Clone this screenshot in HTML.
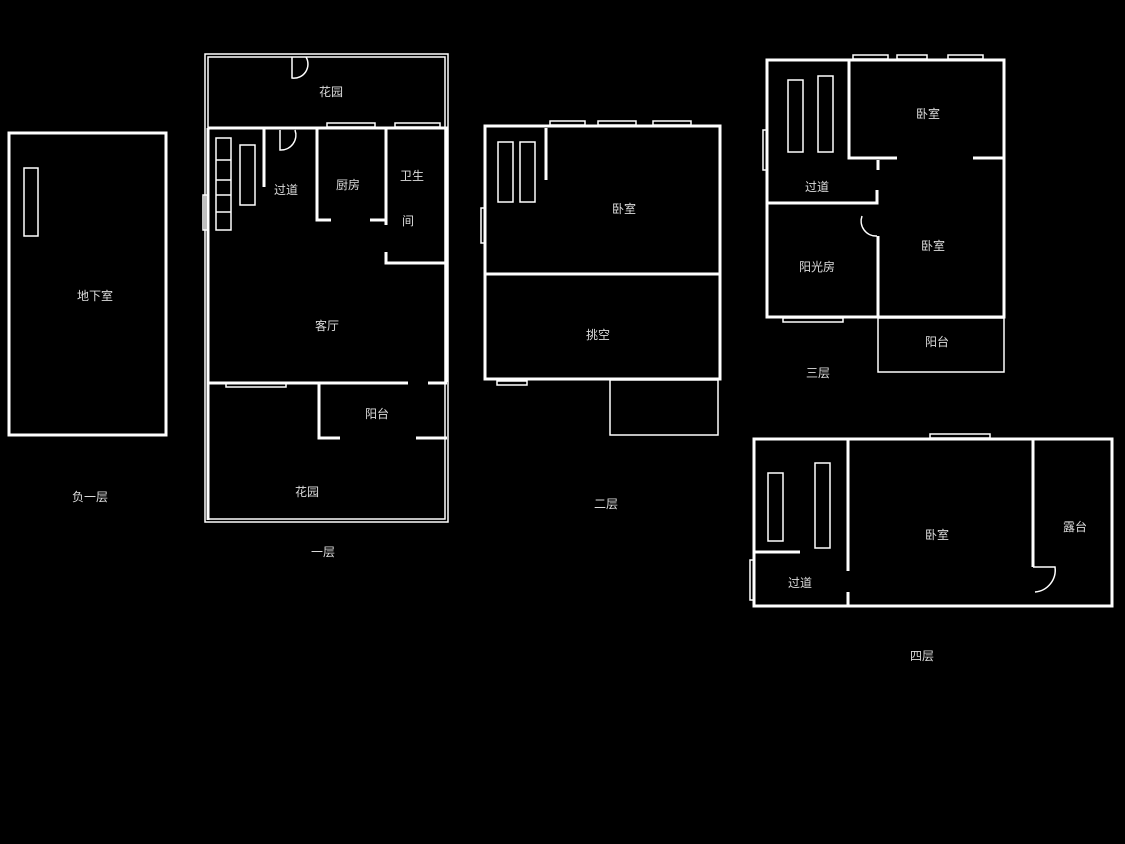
<!DOCTYPE html>
<html><head><meta charset="utf-8"><style>
html,body{margin:0;padding:0;background:#000;}
svg{display:block}
text{font-family:"Liberation Sans","Noto Sans CJK SC",sans-serif;font-size:12px;fill:#ddd;text-anchor:middle;dominant-baseline:middle}
</style></head><body>
<svg width="1125" height="844" viewBox="0 0 1125 844" xmlns="http://www.w3.org/2000/svg">
<rect width="1125" height="844" fill="#000"/>
<g fill="none" stroke="#fff" stroke-width="3">
<!-- basement -->
<rect x="9" y="133" width="157" height="302"/>
<!-- floor1 main -->
<polyline points="208,128 447,128 447,382"/>
<line x1="208" y1="128" x2="208" y2="520"/>
<line x1="208" y1="383" x2="408" y2="383"/>
<line x1="428" y1="383" x2="447" y2="383"/>
<line x1="264" y1="128" x2="264" y2="187"/>
<polyline points="331,220 317,220 317,128"/>
<polyline points="370,220 386,220 386,225"/>
<line x1="386" y1="128" x2="386" y2="225"/>
<polyline points="386,252 386,263 447,263"/>
<polyline points="319,383 319,438 340,438"/>
<line x1="416" y1="438" x2="447" y2="438"/>
<!-- floor2 -->
<rect x="485" y="126" width="235" height="253"/>
<line x1="486" y1="274" x2="720" y2="274"/>
<line x1="546" y1="128" x2="546" y2="180"/>
<!-- floor3 -->
<rect x="767" y="60" width="237" height="257"/>
<polyline points="849,60 849,158 897,158"/>
<line x1="973" y1="158" x2="1004" y2="158"/>
<line x1="878" y1="160" x2="878" y2="170"/>
<polyline points="767,203 877,203 877,190"/>
<line x1="878" y1="236" x2="878" y2="318"/>
<!-- floor4 -->
<rect x="754" y="439" width="358" height="167"/>
<line x1="848" y1="440" x2="848" y2="571"/>
<line x1="848" y1="592" x2="848" y2="606"/>
<line x1="1033" y1="440" x2="1033" y2="567"/>
<line x1="755" y1="552" x2="800" y2="552"/>
</g>
<g fill="none" stroke="#fff" stroke-width="1.5">
<!-- floor1 garden outline -->
<rect x="205" y="54" width="243" height="468"/>
<rect x="208" y="57" width="237" height="462"/>
<path d="M292,57 L292,78 A14,14 0 0 0 306,57"/>
<path d="M280,130 L280,150 A15,15 0 0 0 295,130"/>
<rect x="327" y="123" width="48" height="4"/><rect x="395" y="123" width="45" height="4"/>
<rect x="226" y="383" width="60" height="4"/>
<rect x="203" y="195" width="4" height="35"/>
<rect x="216" y="138" width="15" height="92"/>
<line x1="216" y1="160" x2="231" y2="160"/><line x1="216" y1="180" x2="231" y2="180"/><line x1="216" y1="195" x2="231" y2="195"/><line x1="216" y1="212" x2="231" y2="212"/>
<rect x="240" y="145" width="15" height="60"/>
<!-- basement stair -->
<rect x="24" y="168" width="14" height="68"/>
<!-- floor2 -->
<rect x="550" y="121" width="35" height="4"/><rect x="598" y="121" width="38" height="4"/><rect x="653" y="121" width="38" height="4"/>
<rect x="481" y="208" width="4" height="35"/>
<rect x="497" y="381" width="30" height="4"/>
<rect x="610" y="380" width="108" height="55"/>
<rect x="498" y="142" width="15" height="60"/><rect x="520" y="142" width="15" height="60"/>
<!-- floor3 -->
<rect x="853" y="55" width="35" height="4"/><rect x="897" y="55" width="30" height="4"/><rect x="948" y="55" width="35" height="4"/>
<rect x="763" y="130" width="4" height="40"/>
<rect x="783" y="318" width="60" height="4"/>
<rect x="878" y="318" width="126" height="54"/>
<rect x="788" y="80" width="15" height="72"/><rect x="818" y="76" width="15" height="76"/>
<path d="M862,216 A15,15 0 0 0 877,236"/>
<!-- floor4 -->
<rect x="930" y="434" width="60" height="4"/>
<rect x="750" y="560" width="4" height="40"/>
<rect x="768" y="473" width="15" height="68"/><rect x="815" y="463" width="15" height="85"/>
<path d="M1033,567 L1055,567 A22,22 0 0 1 1035,592"/>
</g>
<text x="95" y="297">地下室</text>
<text x="90" y="498">负一层</text>
<text x="331" y="93">花园</text>
<text x="286" y="191">过道</text>
<text x="348" y="186">厨房</text>
<text x="412" y="177">卫生</text>
<text x="408" y="222">间</text>
<text x="327" y="327">客厅</text>
<text x="377" y="415">阳台</text>
<text x="307" y="493">花园</text>
<text x="323" y="553">一层</text>
<text x="624" y="210">卧室</text>
<text x="598" y="336">挑空</text>
<text x="606" y="505">二层</text>
<text x="928" y="115">卧室</text>
<text x="817" y="188">过道</text>
<text x="933" y="247">卧室</text>
<text x="817" y="268">阳光房</text>
<text x="937" y="343">阳台</text>
<text x="818" y="374">三层</text>
<text x="937" y="536">卧室</text>
<text x="1075" y="528">露台</text>
<text x="800" y="584">过道</text>
<text x="922" y="657">四层</text>
</svg>
</body></html>
